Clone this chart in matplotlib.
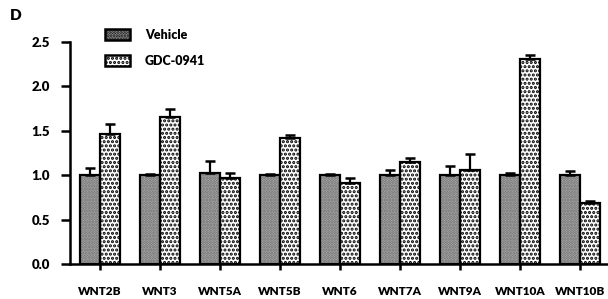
import matplotlib.pyplot as plt
import numpy as np
from matplotlib.patches import Patch

genes = ['WNT2B', 'WNT3', 'WNT5A', 'WNT5B', 'WNT6', 'WNT7A', 'WNT9A', 'WNT10A', 'WNT10B']
vehicle = [1.00, 1.00, 1.02, 1.00, 1.00, 1.00, 1.00, 1.00, 1.00]
vehicle_err = [0.08, 0.01, 0.14, 0.01, 0.01, 0.06, 0.10, 0.02, 0.05]
gdc = [1.46, 1.66, 0.97, 1.42, 0.91, 1.15, 1.06, 2.31, 0.69]
gdc_err = [0.12, 0.08, 0.05, 0.03, 0.06, 0.04, 0.18, 0.04, 0.02]

plt.rcParams['font.family'] = ['Lato', 'DejaVu Sans']
plt.rcParams['font.weight'] = 'heavy'
plt.rcParams['hatch.linewidth'] = 1.5

fig = plt.figure(figsize=(6.08, 2.99), dpi=100)
ax = fig.add_axes([70 / 608, 35 / 299, 540 / 608, 222 / 299])

x = np.arange(len(genes))
w = 1 / 3
veh_face, veh_hatch, veh_hc = '#b4b4b4', '......', '#6a6a6a'
gdc_face, gdc_hatch, gdc_hc = 'white', '....', 'black'


def draw(pos, vals, errs, face, hatch, hatch_color):
    # hatch layer, then outline layer on top
    ax.bar(pos, vals, w, color=face, edgecolor=hatch_color, hatch=hatch, linewidth=0, zorder=2)
    ax.bar(pos, vals, w, fill=False, edgecolor='black', linewidth=1.6, zorder=3)
    ax.errorbar(pos, vals, yerr=[np.zeros(len(vals)), errs], fmt='none', ecolor='black',
                elinewidth=1.6, capsize=3.5, capthick=1.8, zorder=4)


draw(x - w / 2, vehicle, vehicle_err, veh_face, veh_hatch, veh_hc)
draw(x + w / 2, gdc, gdc_err, gdc_face, gdc_hatch, gdc_hc)

ax.set_xlim(-0.5, 8.5)
ax.set_ylim(0, 2.5)
ax.set_yticks([0, 0.5, 1.0, 1.5, 2.0, 2.5])
ax.set_yticklabels(['0.0', '0.5', '1.0', '1.5', '2.0', '2.5'], fontsize=9.5, fontweight='heavy')
ax.set_xticks(x)
ax.set_xticklabels(genes, fontsize=8.5, fontweight='heavy')
for s in ['top', 'right']:
    ax.spines[s].set_visible(False)
for s in ['left', 'bottom']:
    ax.spines[s].set_linewidth(1.8)
ax.spines['bottom'].set_clip_on(False)
ax.tick_params(axis='y', length=6.5, width=1.8, pad=8)
ax.tick_params(axis='x', length=4, width=1.8, pad=12)

handles = [
    Patch(facecolor=veh_face, edgecolor=veh_hc, hatch=veh_hatch, linewidth=0),
    Patch(facecolor=gdc_face, edgecolor=gdc_hc, hatch=gdc_hatch, linewidth=0),
]
leg = ax.legend(handles, ['Vehicle', 'GDC-0941'], loc='upper left',
                bbox_to_anchor=(105 / 608, 1 - 29 / 299), bbox_transform=fig.transFigure,
                frameon=False, handlelength=2.0, handleheight=1.0, borderpad=0,
                borderaxespad=0, handletextpad=1.2, labelspacing=1.1,
                prop={'weight': 'heavy', 'size': 9})
for p in leg.get_patches():
    p.set_edgecolor('black')
    p.set_linewidth(1.8)

fig.text(10 / 608, 1 - 15 / 299, 'D', fontsize=11, fontweight='heavy', va='center')

fig.savefig('out.png', dpi=100)
